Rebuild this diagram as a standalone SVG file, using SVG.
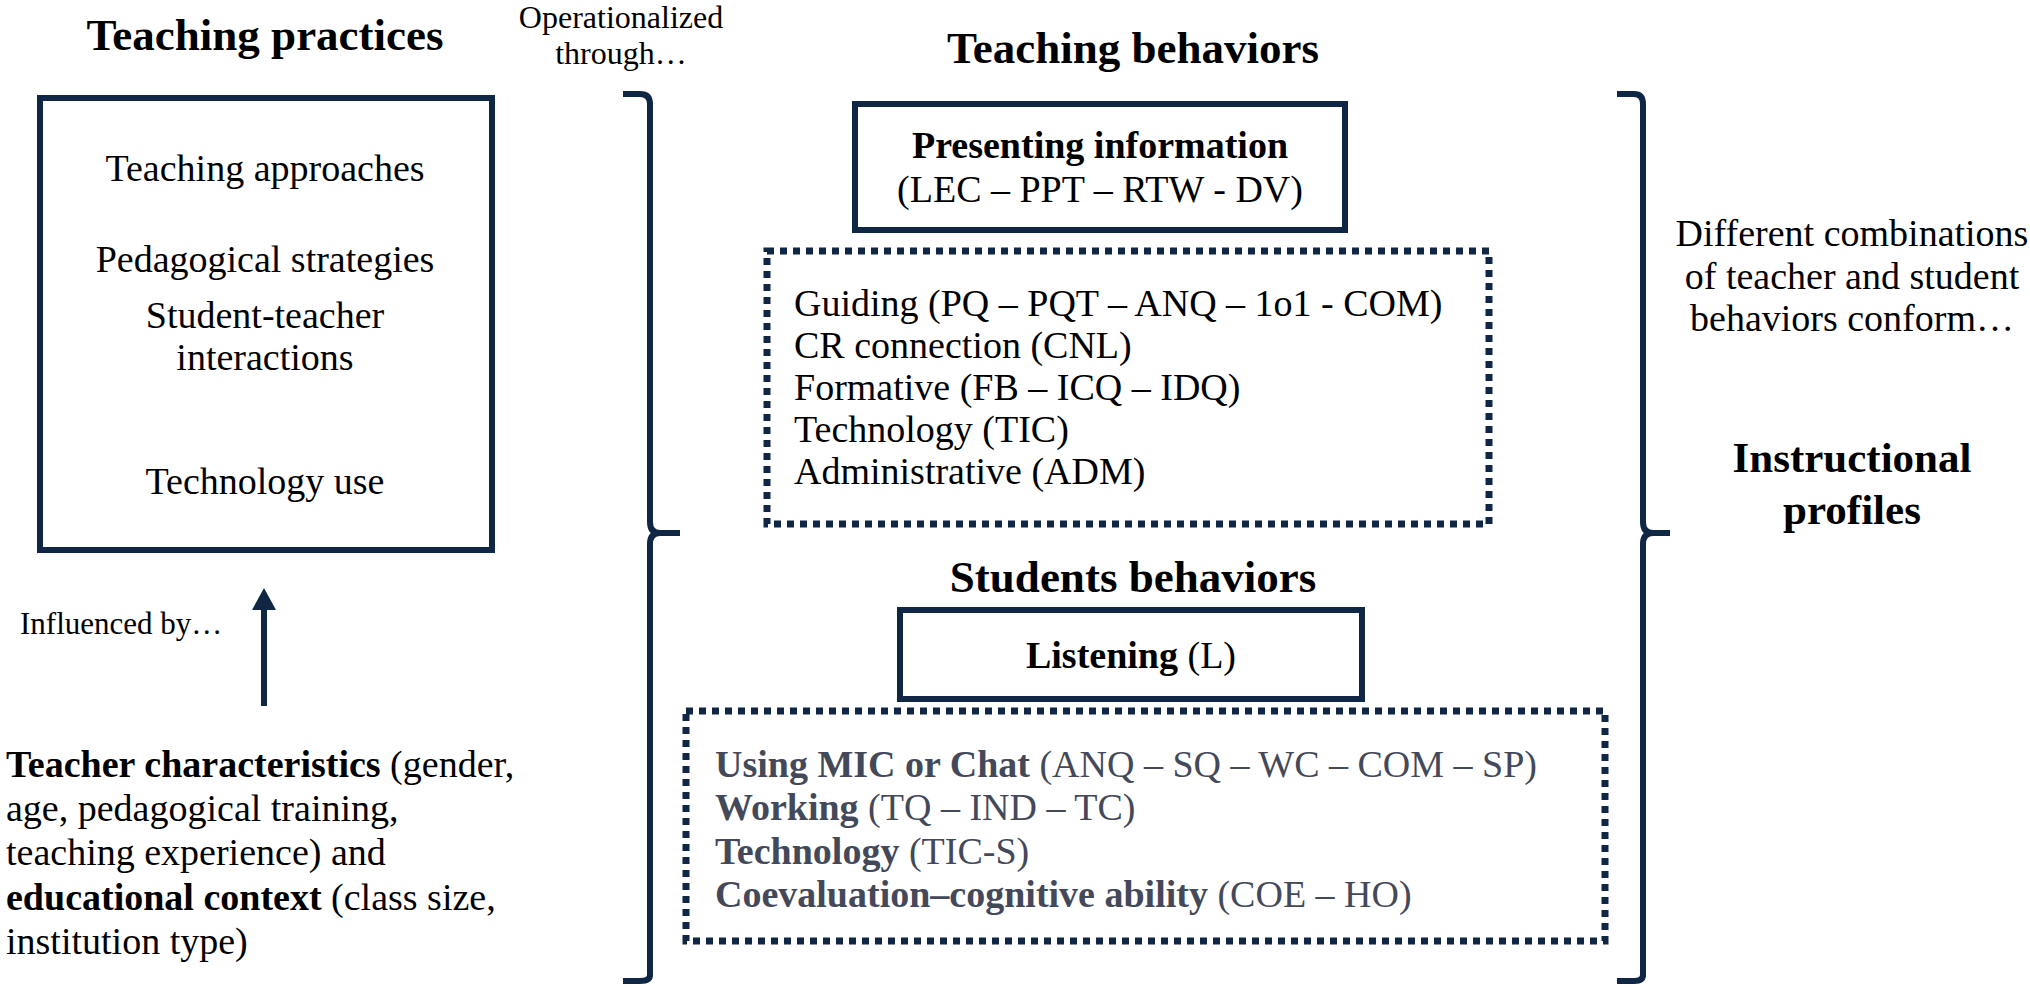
<svg xmlns="http://www.w3.org/2000/svg" width="2030" height="987" viewBox="0 0 2030 987">
<style>
text{font-family:"Liberation Serif","Times New Roman",serif;fill:#000}
.t{font-size:45px;font-weight:bold}
.n{font-size:38px}
.b{font-weight:bold}
.g{fill:#44495a}
.box{fill:none;stroke:#0f2744;stroke-width:6}
.dot{fill:none;stroke:#0f2744;stroke-width:7;stroke-dasharray:7 6}
.br{fill:none;stroke:#0f2744;stroke-width:6}
</style>
<g id="practices">
<text class="t" x="265" y="50" text-anchor="middle">Teaching practices</text>
<rect class="box" x="40" y="98" width="452" height="452"/>
<g class="n" text-anchor="middle">
<text x="265" y="181">Teaching approaches</text>
<text x="265" y="272">Pedagogical strategies</text>
<text x="265" y="328">Student-teacher</text>
<text x="265" y="370">interactions</text>
<text x="265" y="494">Technology use</text>
</g>
</g>
<g id="context">
<text x="20" y="634" font-size="31">Influenced by…</text>
<g class="n">
<text x="6" y="777"><tspan class="b">Teacher characteristics</tspan> (gender,</text>
<text x="6" y="821">age, pedagogical training,</text>
<text x="6" y="865">teaching experience) and</text>
<text x="6" y="910"><tspan class="b">educational context</tspan> (class size,</text>
<text x="6" y="954">institution type)</text>
</g>
</g>
<g id="operationalized">
<text x="621" y="28" font-size="32" text-anchor="middle">Operationalized</text>
<text x="621" y="64" font-size="32" text-anchor="middle">through…</text>
</g>
<g id="teaching-behaviors">
<text class="t" x="1133" y="63" text-anchor="middle">Teaching behaviors</text>
<rect class="box" x="855" y="104" width="490" height="126"/>
<text class="n b" x="1100" y="158" text-anchor="middle">Presenting information</text>
<text class="n" x="1100" y="202" text-anchor="middle">(LEC – PPT – RTW - DV)</text>
<rect class="dot" x="767" y="251" width="722" height="273"/>
<g class="n">
<text x="794" y="316">Guiding (PQ – PQT – ANQ – 1o1 - COM)</text>
<text x="794" y="358">CR connection (CNL)</text>
<text x="794" y="400">Formative (FB – ICQ – IDQ)</text>
<text x="794" y="442">Technology (TIC)</text>
<text x="794" y="484">Administrative (ADM)</text>
</g>
</g>
<g id="students-behaviors">
<text class="t" x="1133" y="592" text-anchor="middle">Students behaviors</text>
<rect class="box" x="900" y="610" width="462" height="89"/>
<text class="n" x="1131" y="668" text-anchor="middle"><tspan class="b">Listening</tspan> (L)</text>
<rect class="dot" x="686" y="711" width="919" height="230"/>
<g class="n">
<text class="g" x="715" y="777"><tspan class="b g">Using MIC or Chat</tspan> (ANQ – SQ – WC – COM – SP)</text>
<text class="g" x="715" y="820"><tspan class="b g">Working</tspan> (TQ – IND – TC)</text>
<text class="g" x="715" y="864"><tspan class="b g">Technology</tspan> (TIC-S)</text>
<text class="g" x="715" y="907"><tspan class="b g">Coevaluation–cognitive ability</tspan> (COE – HO)</text>
</g>
</g>
<g id="profiles" text-anchor="middle">
<text class="n" x="1852" y="246">Different combinations</text>
<text class="n" x="1852" y="289">of teacher and student</text>
<text class="n" x="1852" y="331">behaviors conform…</text>
<text class="b" font-size="43" x="1852" y="472">Instructional</text>
<text class="b" font-size="43" x="1852" y="524">profiles</text>
</g>
<g id="connectors">
<path class="br" d="M623,94 H640 Q650,94 650,104 V522 Q650,533 660,533 H680 M650,544 Q650,533 660,533 M650,544 V975 Q650,981 640,981 H623"/>
<path class="br" d="M1617,94 H1634 Q1643,94 1643,104 V522 Q1643,533 1653,533 H1670 M1643,544 Q1643,533 1653,533 M1643,544 V975 Q1643,981 1634,981 H1617"/>
<line x1="264" y1="706" x2="264" y2="606" stroke="#0f2744" stroke-width="6"/>
<path d="M252,610 L264,588 L276,610 Z" fill="#0f2744"/>
</g>
</svg>
